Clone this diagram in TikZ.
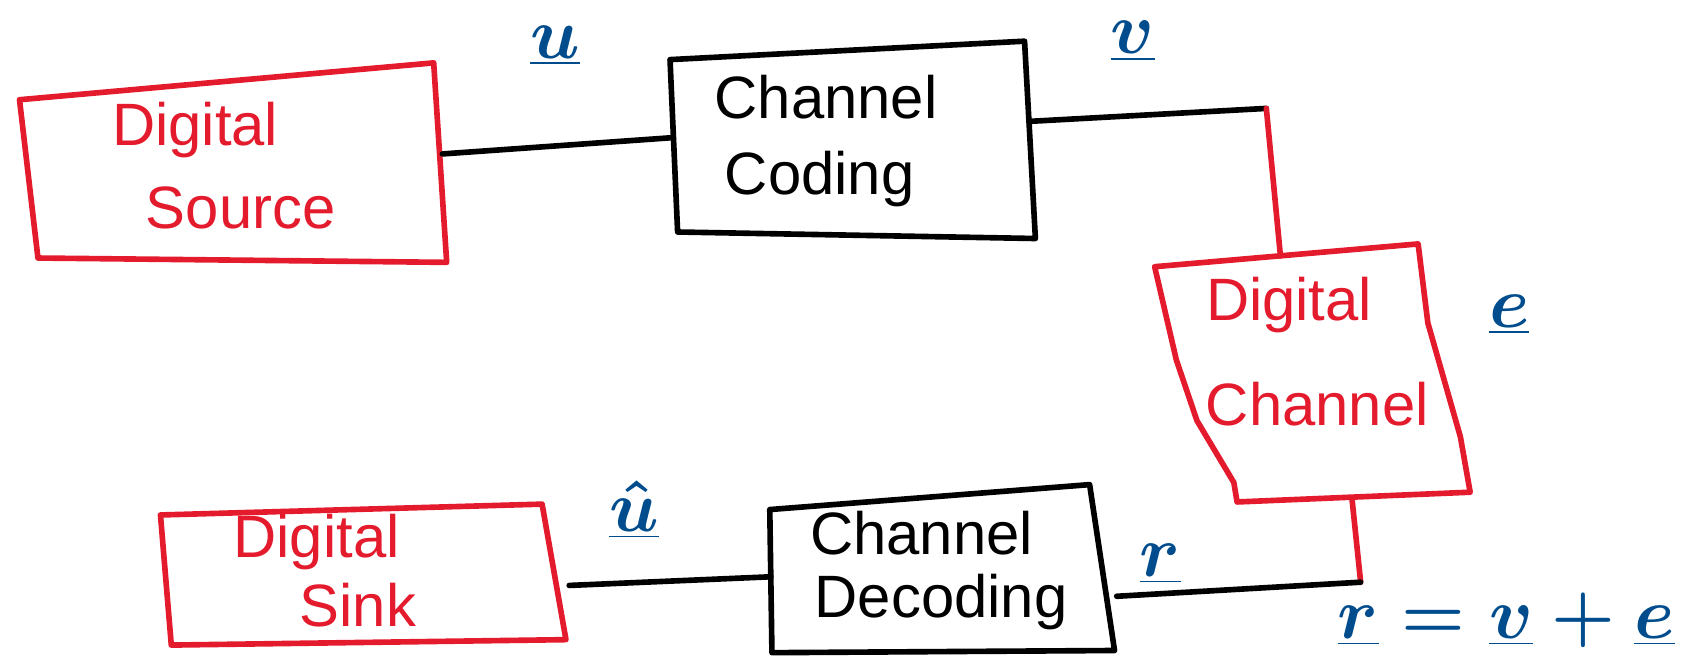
\documentclass[tikz,border=0pt]{standalone}
\usepackage{fontspec}
\newfontfamily\handfont{Liberation Sans}
\usetikzlibrary{positioning}
\definecolor{penred}{RGB}{228,26,45}
\definecolor{penblue}{RGB}{0,76,140}

\begin{document}
\begin{tikzpicture}[
  x=0.01084cm, y=-0.01084cm,
  stroke/.style={line width=1.6pt,line cap=round,line join=round},
  redbox/.style={stroke,draw=penred},
  blackbox/.style={stroke,draw=black},
  wire/.style={stroke,draw=black},
  redwire/.style={stroke,draw=penred},
  boxtext/.style={font=\handfont\fontsize{17}{20}\selectfont},
  redtext/.style={boxtext,text=penred},
  sig/.style={text=penblue,font=\fontsize{22}{24}\selectfont\boldmath}
]
\useasboundingbox (0,0) rectangle (1568,614);

% ===================== Digital Source =====================
\coordinate (src-nw) at (18,92);
\coordinate (src-ne) at (400,58);
\coordinate (src-se) at (412,242);
\coordinate (src-sw) at (35,238);
\draw[redbox] (src-nw) -- (src-ne) -- (src-se) -- (src-sw) -- cycle;
\node[redtext] (src-a) at (180,120) {Digital};
\node[redtext] (src-b) at (222,192) {Source};
\coordinate (src-e) at (408,142);

% ===================== Channel Coding =====================
\coordinate (cod-nw) at (618,55);
\coordinate (cod-ne) at (945,38);
\coordinate (cod-se) at (955,220);
\coordinate (cod-sw) at (625,214);
\draw[blackbox] (cod-nw) -- (cod-ne) -- (cod-se) -- (cod-sw) -- cycle;
\node[boxtext] (cod-a) at (762,90) {Channel};
\node[boxtext] (cod-b) at (756,165) {Coding};
\coordinate (cod-w) at (620,127);
\coordinate (cod-e) at (949,112);

% ===================== Digital Channel =====================
\draw[redbox] (1065,246) -- (1085,332) -- (1104,388) -- (1138,445) -- (1141,463)
  -- (1356,454) -- (1347,403) -- (1317,298) -- (1308,225) -- cycle;
\node[redtext] (chn-a) at (1189,281) {Digital};
\node[redtext] (chn-b) at (1215,373) {Channel};
\coordinate (chn-n) at (1181,236);
\coordinate (chn-s) at (1247,460);

% ===================== Channel Decoding =====================
\coordinate (dec-nw) at (710,470);
\coordinate (dec-ne) at (1005,447);
\coordinate (dec-se) at (1028,600);
\coordinate (dec-sw) at (712,602);
\draw[blackbox] (dec-nw) -- (dec-ne) -- (dec-se) -- (dec-sw) -- cycle;
\node[boxtext] (dec-a) at (850,492) {Channel};
\node[boxtext] (dec-b) at (868,555) {Decoding};
\coordinate (dec-w) at (711,532);
\coordinate (dec-e) at (1030,550);

% ===================== Digital Sink =====================
\coordinate (snk-nw) at (148,475);
\coordinate (snk-ne) at (500,465);
\coordinate (snk-se) at (522,590);
\coordinate (snk-sw) at (158,595);
\draw[redbox] (snk-nw) -- (snk-ne) -- (snk-se) -- (snk-sw) -- cycle;
\node[redtext] (snk-a) at (292,500) {Digital};
\node[redtext] (snk-b) at (330,558) {Sink};
\coordinate (snk-e) at (525,540);

% ===================== connections =====================
\coordinate (bend-top) at (1168,100);
\coordinate (bend-bot) at (1255,537);
\draw[wire] (src-e) -- (cod-w);
\draw[wire] (cod-e) -- (bend-top);
\draw[redwire] (bend-top) -- (chn-n);
\draw[redwire] (chn-s) -- (bend-bot);
\draw[wire] (bend-bot) -- (dec-e);
\draw[wire] (dec-w) -- (snk-e);

% ===================== signals =====================
\node[sig] (lab-u) at (512,42) {$\underline{u}$};
\node[sig] (lab-v) at (1045,38) {$\underline{v}$};
\node[sig] (lab-e) at (1392,290) {$\underline{e}$};
\node[sig] (lab-uhat) at (585,470) {$\underline{\hat{u}}$};
\node[sig] (lab-r) at (1070,520) {$\underline{r}$};
\node[sig,anchor=east] (lab-sum) at (1556,572) {$\underline{r}=\underline{v}+\underline{e}$};

\end{tikzpicture}
\end{document}
